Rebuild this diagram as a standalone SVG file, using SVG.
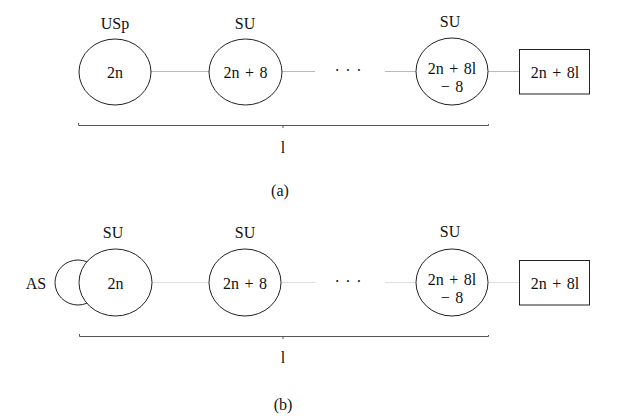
<svg xmlns="http://www.w3.org/2000/svg" width="623" height="416" viewBox="0 0 623 416">
<style>
text{font-family:"Liberation Serif","DejaVu Serif",serif;font-size:16px;fill:#111;text-anchor:middle;dominant-baseline:central;word-spacing:1.5px}
.n{fill:#fff;stroke:#222;stroke-width:1}
.c{stroke:#bbb;stroke-width:1;fill:none}
.c2{stroke:#ddd;stroke-width:1;fill:none}
.b{stroke:#555;stroke-width:1;fill:none}
</style>
<rect width="623" height="416" fill="#fff"/>
<g id="connectors">
<line class="c" x1="151" y1="71.5" x2="209" y2="71.5"/>
<line class="c" x1="282" y1="71.5" x2="315" y2="71.5"/>
<line class="c" x1="385" y1="71.5" x2="416" y2="71.5"/>
<line class="c" x1="488" y1="71.5" x2="519" y2="71.5"/>
<line class="c2" x1="152" y1="282.5" x2="209" y2="282.5"/>
<line class="c2" x1="281" y1="282.5" x2="315" y2="282.5"/>
<line class="c2" x1="385" y1="282.5" x2="416" y2="282.5"/>
<line class="c2" x1="488" y1="282.5" x2="519" y2="282.5"/>
</g>
<g id="a-usp"><ellipse class="n" cx="115" cy="72" rx="36" ry="33"/><text x="115" y="72">2n</text><text x="115" y="23">USp</text></g>
<g id="a-su1"><ellipse class="n" cx="245.5" cy="72" rx="36.5" ry="33"/><text x="245.5" y="72">2n + 8</text><text x="245" y="23">SU</text></g>
<g id="a-dots"><text x="348" y="70">· · ·</text></g>
<g id="a-su2"><ellipse class="n" cx="452" cy="71.5" rx="36" ry="33.5"/><text x="452" y="68">2n + 8l</text><text x="452" y="86">− 8</text><text x="450" y="21">SU</text></g>
<g id="a-box"><rect class="n" x="519.5" y="49.5" width="70" height="44.5"/><text x="555" y="72">2n + 8l</text></g>
<g id="a-bracket"><path class="b" d="M78.5 123 V125.5 H488.5 V124"/><line class="b" x1="283" y1="125" x2="283" y2="128"/><text x="283" y="147">l</text><text x="280" y="190">(a)</text></g>
<g id="b-as"><ellipse class="n" cx="78" cy="282.5" rx="23" ry="22.5"/><text x="36" y="283">AS</text></g>
<g id="b-su0"><ellipse class="n" cx="115.5" cy="282.5" rx="36.5" ry="33.5"/><text x="115.5" y="283">2n</text><text x="113" y="232">SU</text></g>
<g id="b-su1"><ellipse class="n" cx="245" cy="282.5" rx="36" ry="33.5"/><text x="245" y="283">2n + 8</text><text x="245" y="232">SU</text></g>
<g id="b-dots"><text x="348" y="281">· · ·</text></g>
<g id="b-su2"><ellipse class="n" cx="452" cy="282.5" rx="36" ry="33.5"/><text x="452" y="279">2n + 8l</text><text x="452" y="297">− 8</text><text x="450" y="231">SU</text></g>
<g id="b-box"><rect class="n" x="519.5" y="260.5" width="70" height="44.5"/><text x="555" y="283">2n + 8l</text></g>
<g id="b-bracket"><path class="b" d="M79.5 334 V336.5 H488.5 V335"/><line class="b" x1="283" y1="336" x2="283" y2="339"/><text x="283" y="357">l</text><text x="283" y="404">(b)</text></g>
</svg>
